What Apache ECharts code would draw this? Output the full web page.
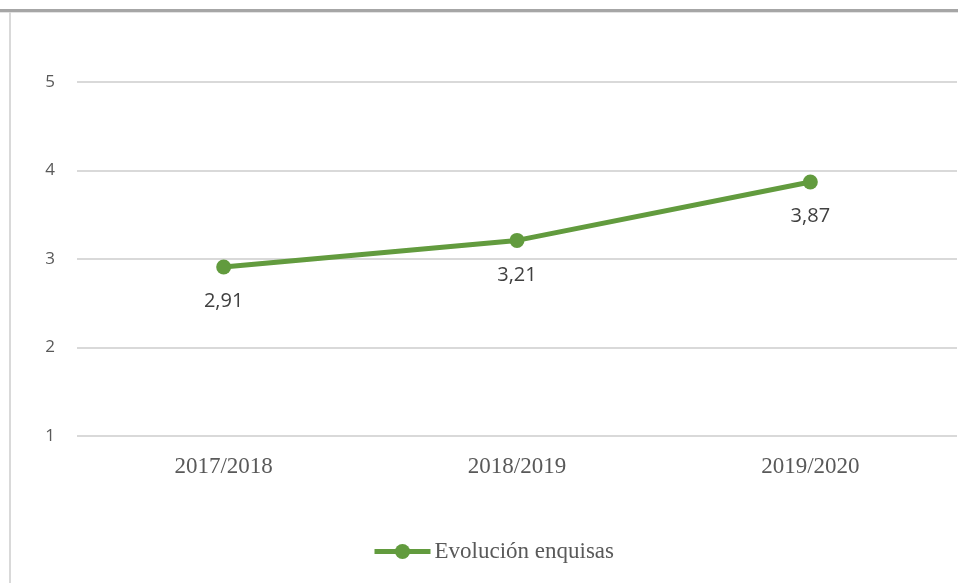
<!DOCTYPE html>
<html>
<head>
<meta charset="utf-8">
<script src="https://cdn.jsdelivr.net/npm/echarts@6/dist/echarts.min.js"></script>
<style>html,body{margin:0;padding:0;background:#fff;}#c{width:958px;height:583px;}</style>
</head>
<body>
<div id="c"></div>
<script>
var categories = ['2017/2018', '2018/2019', '2019/2020'];
var values = [2.91, 3.21, 3.87];
var seriesName = 'Evolución enquisas';
var yTicks = [1, 2, 3, 4, 5];

var chart = echarts.init(document.getElementById('c'), null, {renderer: 'canvas'});
var green = '#629b3e';
chart.setOption({
  backgroundColor: '#fff',
  animation: false,
  graphic: [
    {type: 'rect', shape: {x: 0, y: 9, width: 958, height: 3}, style: {fill: '#a6a6a6'}},
    {type: 'rect', shape: {x: 0, y: 12, width: 958, height: 1}, style: {fill: '#e3e3e3'}},
    {type: 'rect', shape: {x: 9, y: 12, width: 2, height: 571}, style: {fill: '#d9d9d9'}}
  ],
  grid: {left: 77, right: 1, top: 82, bottom: 147, containLabel: false},
  xAxis: {
    type: 'category',
    data: categories,
    boundaryGap: true,
    axisLine: {show: false},
    axisTick: {show: false},
    axisLabel: {color: '#595959', fontFamily: 'Liberation Serif', fontSize: 23, margin: 19}
  },
  yAxis: {
    type: 'value',
    min: yTicks[0],
    max: yTicks[yTicks.length - 1],
    interval: 1,
    axisLine: {show: false},
    axisTick: {show: false},
    axisLabel: {color: '#595959', fontFamily: 'Open Sans', fontSize: 17, margin: 22},
    splitLine: {lineStyle: {color: '#d9d9d9', width: 2}}
  },
  legend: {
    bottom: 20,
    left: 372,
    padding: 0,
    itemWidth: 56,
    itemHeight: 19,
    lineStyle: {width: 5},
    textStyle: {color: '#595959', fontFamily: 'Liberation Serif', fontSize: 23, padding: [0, 0, 0, -1]},
    data: [{name: seriesName}]
  },
  series: [{
    name: seriesName,
    type: 'line',
    data: values,
    smooth: false,
    symbol: 'circle',
    symbolSize: 15,
    lineStyle: {color: green, width: 5},
    itemStyle: {color: green},
    label: {
      show: true,
      position: 'bottom',
      distance: 17,
      color: '#404040',
      fontFamily: 'Open Sans',
      fontSize: 20,
      formatter: function (p) { return p.value.toFixed(2).replace('.', ','); }
    }
  }]
});
</script>
</body>
</html>
